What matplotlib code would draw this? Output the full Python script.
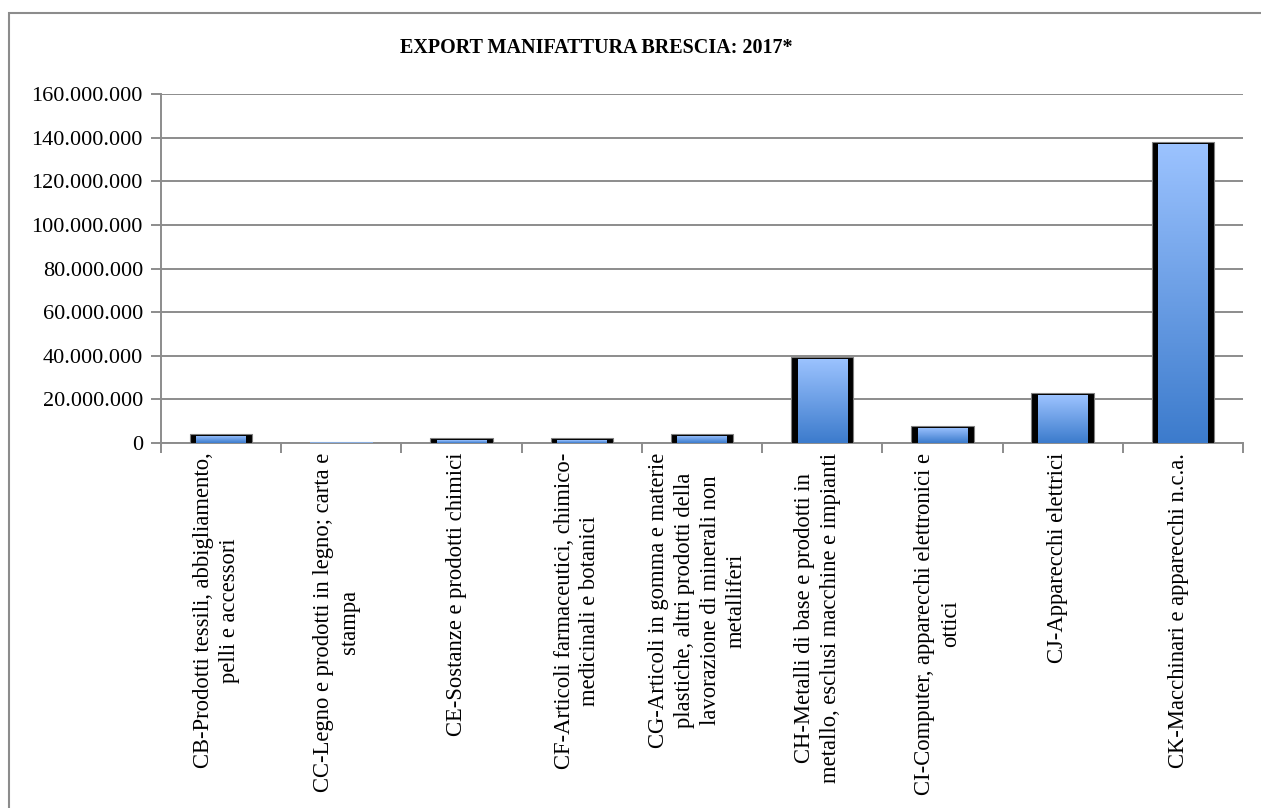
import numpy as np
import matplotlib
matplotlib.use("Agg")
import matplotlib.pyplot as plt
from matplotlib.patches import Rectangle
from matplotlib.colors import LinearSegmentedColormap

categories = [
    "CB-Prodotti tessili, abbigliamento,\npelli e accessori",
    "CC-Legno e prodotti in legno; carta e\nstampa",
    "CE-Sostanze e prodotti chimici",
    "CF-Articoli farmaceutici, chimico-\nmedicinali e botanici",
    "CG-Articoli in gomma e materie\nplastiche, altri prodotti della\nlavorazione di minerali non\nmetalliferi",
    "CH-Metalli di base e prodotti in\nmetallo, esclusi macchine e impianti",
    "CI-Computer, apparecchi elettronici e\nottici",
    "CJ-Apparecchi elettrici",
    "CK-Macchinari e apparecchi n.c.a.",
]
values = [4.2e6, 0.2e6, 2.2e6, 2.2e6, 4.2e6, 39.6e6, 7.9e6, 22.8e6, 138.0e6]
ytick_vals = [0, 20e6, 40e6, 60e6, 80e6, 100e6, 120e6, 140e6, 160e6]
ytick_labels = ["0", "20.000.000", "40.000.000", "60.000.000", "80.000.000",
                "100.000.000", "120.000.000", "140.000.000", "160.000.000"]

plt.rcParams['font.family'] = ['Liberation Serif', 'DejaVu Serif']

fig = plt.figure(figsize=(12.61, 8.08), dpi=100)
# outer chart border (left and top visible)
fig.add_artist(Rectangle((9 / 1261, -0.1), 1.2, (808 - 13) / 808 + 0.1,
                         transform=fig.transFigure, fill=False,
                         edgecolor='#8c8c8c', lw=1.5))

ax = fig.add_axes([161 / 1261, (808 - 443) / 808, (1243 - 161) / 1261, (443 - 94) / 808])
grid_col = '#8c8c8c'
x = np.arange(len(values))

ax.set_yticks(ytick_vals)
ax.set_yticklabels(ytick_labels, fontsize=16)
ax.yaxis.grid(True, color=grid_col, lw=1.4)
ax.set_axisbelow(True)
for s in ['top', 'right']:
    ax.spines[s].set_visible(False)
for s in ['left', 'bottom']:
    ax.spines[s].set_color(grid_col)
    ax.spines[s].set_linewidth(1.4)
ax.tick_params(axis='y', length=7, width=1.4, color=grid_col, pad=6)
ax.set_xticks(np.arange(len(values) + 1) - 0.5)
ax.set_xticklabels([])
ax.tick_params(axis='x', length=7, width=1.4, color=grid_col)

# bars: black outer shell with gradient blue face
outer = ax.bar(x, values, width=0.52, color='black', edgecolor='#7f7f7f', lw=0.8, zorder=3)
inner_h = [max(v - 0.9e6, 0) for v in values]
inner = ax.bar(x, inner_h, width=0.41, color='none', lw=0, zorder=4)
cmap = LinearSegmentedColormap.from_list('bl', ['#3c7bcc', '#9cc3ff'])
grad = np.linspace(0, 1, 256).reshape(-1, 1)
for b, v in zip(inner, values):
    if v < 1e6:
        continue
    im = ax.imshow(grad, cmap=cmap, origin='lower', aspect='auto',
                   extent=[b.get_x(), b.get_x() + b.get_width(), 0, b.get_height()],
                   zorder=4)
    im.set_clip_path(b)
for b, v in zip(outer, values):
    if v < 1e6:
        b.set_facecolor('#8aaee0')
        b.set_edgecolor('#8aaee0')
        b.set_linewidth(1.5)
ax.set_xlim(-0.5, len(values) - 0.5)
ax.set_ylim(0, 160e6)

# category labels, rotated
for xi, lab in zip(x, categories):
    ax.text(xi - 0.04, -0.028, lab, transform=ax.get_xaxis_transform(), rotation=90,
            ha='center', va='top', multialignment='center', fontsize=16.3,
            linespacing=1.3)

fig.text(596 / 1261, (808 - 48) / 808, "EXPORT MANIFATTURA BRESCIA: 2017*",
         ha='center', va='center', fontsize=14.5, fontweight='bold')

fig.savefig("out.png", dpi=100)
